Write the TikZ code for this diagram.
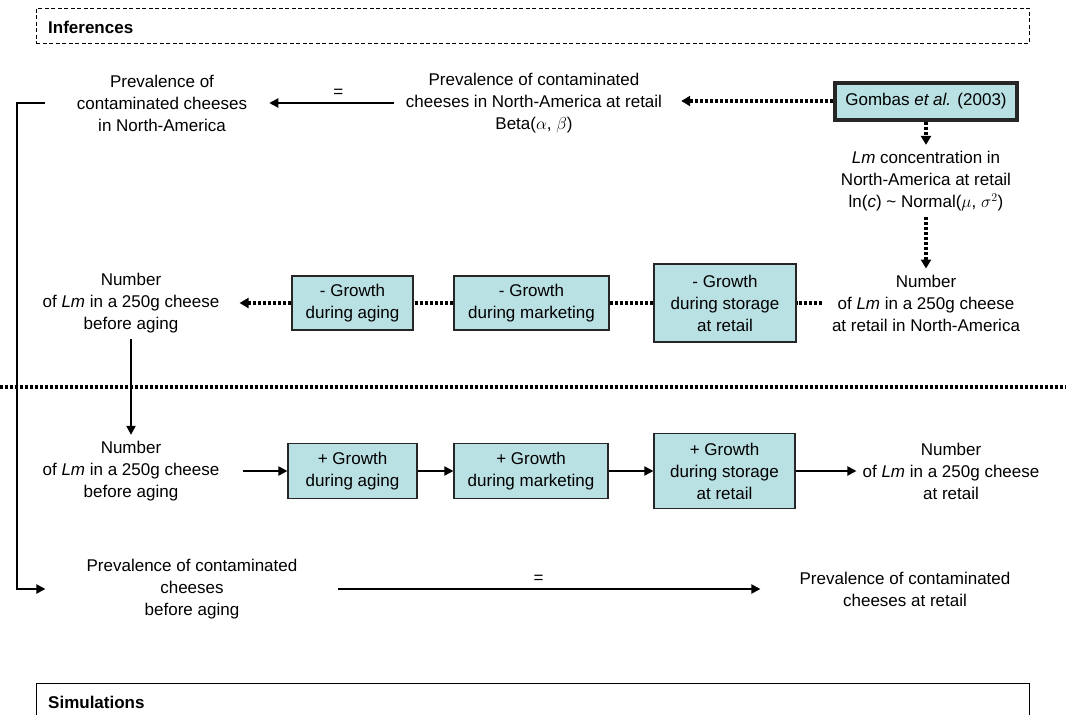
\documentclass[tikz,border=0pt]{standalone}
\usepackage{fontspec}
\setmainfont{Liberation Sans}
\usetikzlibrary{arrows.meta, positioning}

\definecolor{boxfill}{RGB}{185,224,227}
\newcommand{\figfont}{\fontsize{17}{22}\selectfont}

\begin{document}
\begin{tikzpicture}[x=1pt, y=-1pt, font=\figfont]
    \tikzstyle{txt}=[align=center, inner sep=6pt]
    \tikzstyle{growth}=[draw=black!85, line width=1.2pt, fill=boxfill, align=center, inner sep=0pt]
    \tikzstyle{solidarr}=[line width=2pt, -{Triangle[length=9pt, width=9pt]}]
    \tikzstyle{dotline}=[line width=3.5pt, dash pattern=on 3pt off 2pt]
    \tikzstyle{dotarr}=[dotline, -{Triangle[length=9pt, width=10pt]}]

    \useasboundingbox (0,0) rectangle (1066,715);

    % inferences
    \node[draw, line width=1.2pt, dash pattern=on 4pt off 2.5pt, minimum width=993pt, minimum height=35pt, anchor=north west] (inf_box) at (35.5,7.5) {};
    \node[anchor=west, inner sep=0pt, font=\figfont\bfseries] (inf_lbl) at (48,27.5) {Inferences};

    \node[txt] (prev_na) at (162,103) {Prevalence of\\contaminated cheeses\\in North-America};
    \node[txt] (prev_retail) at (534,103) {Prevalence of contaminated\\cheeses in North-America at retail\\Beta($\alpha$, $\beta$)};
    \node[growth, line width=4pt, minimum width=182pt, minimum height=37pt] (gombas) at (926,101) {Gombas \textit{et al.} (2003)};
    \node[txt] (lm_conc) at (926,181) {\textit{Lm} concentration in\\North-America at retail\\ln(\textit{c}) \textasciitilde{} Normal($\mu$, $\sigma^2$)};
    \node[txt] (num_na) at (926,303) {Number\\of \textit{Lm} in a 250g cheese\\at retail in North-America};

    \node[growth, minimum width=142pt, minimum height=78pt] (minus_stor) at (725,303) {- Growth\\during storage\\at retail};
    \node[growth, minimum width=155pt, minimum height=54pt] (minus_mkt) at (531.5,303) {- Growth\\during marketing};
    \node[growth, minimum width=121pt, minimum height=54pt] (minus_age) at (352.5,303) {- Growth\\during aging};
    \node[txt] (num_age) at (131,303) {Number\\of \textit{Lm} in a 250g cheese\\before aging};

    % border between the two parts
    \coordinate (sep_l) at (0,387);
    \coordinate (sep_r) at (1066,387);
    \draw[dotline] (sep_l) -- (sep_r);

    % simulations
    \node[txt] (num_age2) at (131,471) {Number\\of \textit{Lm} in a 250g cheese\\before aging};
    \node[growth, minimum width=129pt, minimum height=55pt] (plus_age) at (352.5,471) {+ Growth\\during aging};
    \node[growth, minimum width=154pt, minimum height=55pt] (plus_mkt) at (531,471) {+ Growth\\during marketing};
    \node[growth, minimum width=141pt, minimum height=75pt] (plus_stor) at (724.5,471) {+ Growth\\during storage\\at retail};
    \node[txt] (num_retail) at (951,471) {Number\\of \textit{Lm} in a 250g cheese\\at retail};

    \node[txt] (prev_age) at (192,589) {Prevalence of contaminated\\cheeses\\before aging};
    \node[txt] (prev_retail2) at (905,589) {Prevalence of contaminated\\cheeses at retail};

    \node[draw, line width=1.2pt, minimum width=993pt, minimum height=45pt, anchor=north west] (sim_box) at (35.5,683) {};
    \node[anchor=west, inner sep=0pt, font=\figfont\bfseries] (sim_lbl) at (48,702) {Simulations};

    % backward (inference) links
    \draw[solidarr, shorten <=6pt, shorten >=16pt] (prev_retail) -- node[above, pos=0.42, inner sep=5pt]{=} (prev_na);
    \draw[dotarr, shorten >=13pt] (gombas.west) -- (gombas.west -| prev_retail.east);
    \draw[dotarr] (gombas) -- (lm_conc);
    \draw[dotarr] (lm_conc) -- (num_na);
    \draw[dotline, shorten <=4pt] (num_na) -- (minus_stor);
    \draw[dotline] (minus_stor) -- (minus_mkt);
    \draw[dotline] (minus_mkt) -- (minus_age);
    \draw[dotarr, shorten >=14pt] (minus_age) -- (num_age);

    % forward (simulation) links
    \draw[solidarr] (num_age) -- (num_age2);
    \draw[solidarr, shorten <=17pt] (num_age2) -- (plus_age);
    \draw[solidarr] (plus_age) -- (plus_mkt);
    \draw[solidarr] (plus_mkt) -- (plus_stor);
    \draw[solidarr] (plus_stor) -- (num_retail);

    \draw[solidarr, shorten <=26pt, shorten >=35pt] (prev_na.west) -- ++(-54,0) |- (prev_age.west);
    \draw[solidarr, shorten <=34pt, shorten >=33pt] (prev_age) -- node[above, pos=0.48, inner sep=5pt]{=} (prev_retail2);
\end{tikzpicture}
\end{document}
